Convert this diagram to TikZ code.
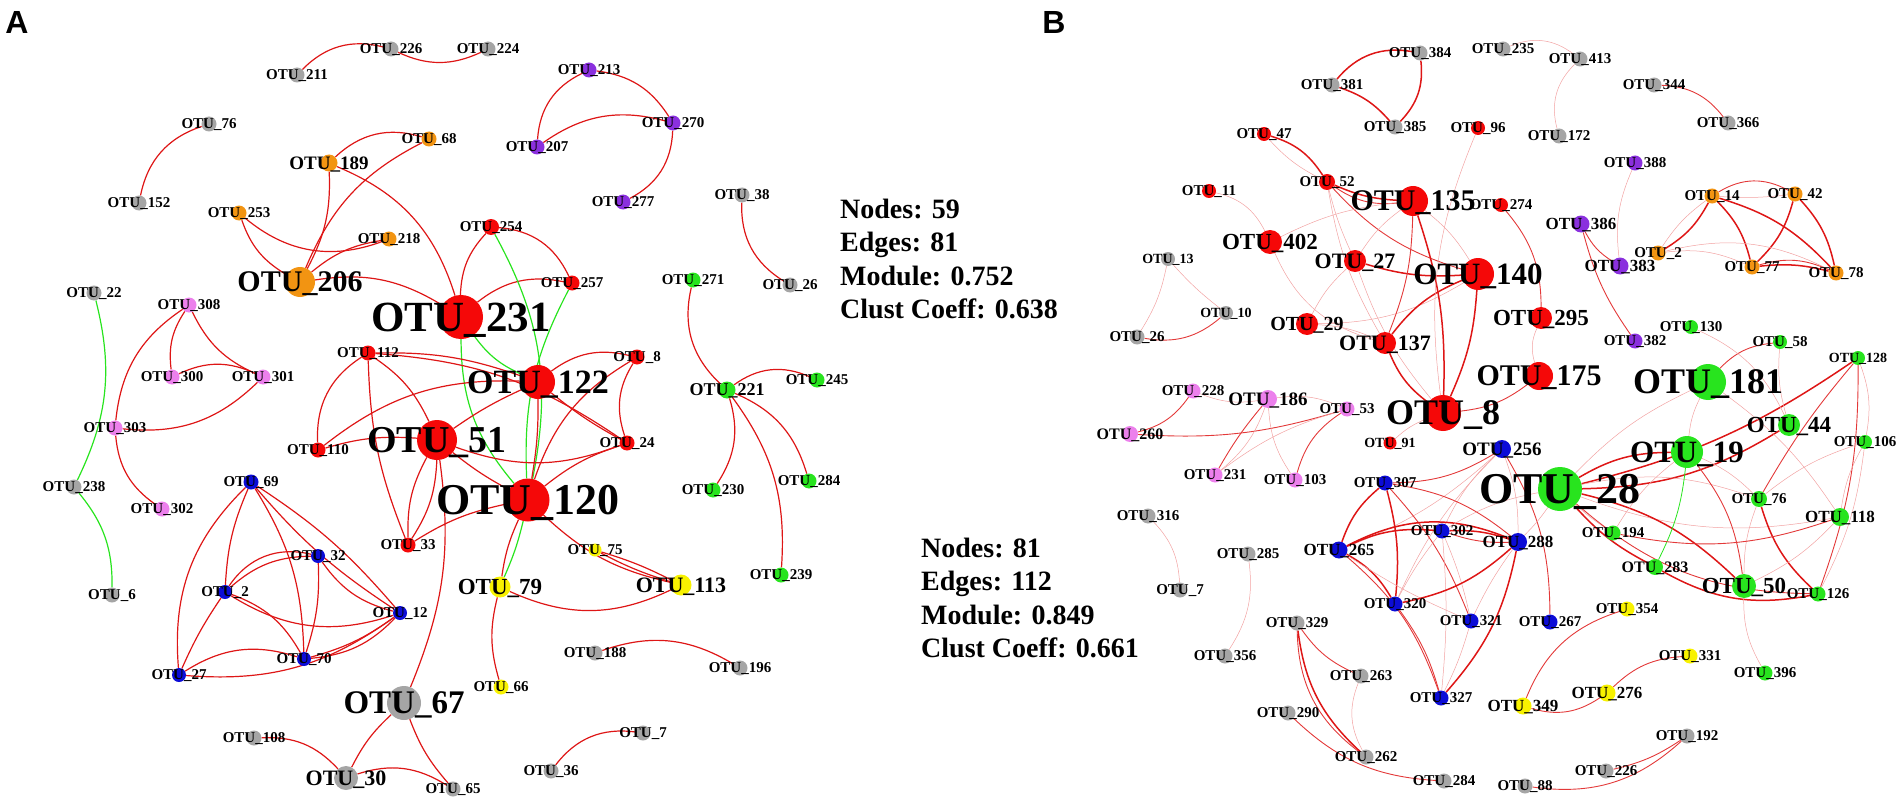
\documentclass[tikz,border=0pt]{standalone}
\usepackage{fontspec}
\setmainfont{Liberation Serif}
\newfontfamily\panelfont{Liberation Sans}

\definecolor{otured}{RGB}{245,8,8}
\definecolor{otugreen}{RGB}{40,228,30}
\definecolor{otublue}{RGB}{12,12,215}
\definecolor{otuorange}{RGB}{242,148,18}
\definecolor{otupurple}{RGB}{138,48,222}
\definecolor{otupink}{RGB}{236,128,236}
\definecolor{otuyellow}{RGB}{248,242,0}
\definecolor{otugray}{RGB}{165,165,165}
\definecolor{edgered}{RGB}{222,22,22}

\pgfdeclarelayer{edges}
\pgfsetlayers{edges,main}

\tikzset{
  otu/.style={circle, inner sep=0pt, minimum size=15},
  lab/.style={font=\bfseries\fontsize{#1}{#1}\selectfont, text depth=0pt, inner sep=0pt},
  lab/.default=15,
  panel/.style={font=\panelfont\bfseries\fontsize{32}{32}\selectfont, inner sep=0pt},
  stats/.style={font=\bfseries\fontsize{28}{33.5}\selectfont, align=left, inner sep=0pt, anchor=west},
  edge/.style={draw=edgered, line width=1.2pt},
  gedge/.style={draw=otugreen, line width=1.2pt},
  strong/.style={draw=edgered, line width=1.5pt},
  mid/.style={draw=edgered!85, line width=0.9pt},
  faint/.style={draw=edgered!40, line width=0.5pt},
}

\begin{document}
\begin{tikzpicture}[x=1pt, y=-1pt]
    \useasboundingbox (0,0) rectangle (1902,805);

    % ---------- panel A ----------
    \node[panel] (panA) at (17,22) {A};
    \node[stats] (statsA) at (840,259) {Nodes: 59\\Edges: 81\\Module: 0.752\\Clust Coeff: 0.638};

    \node[otu, fill=otugray, label={[lab]center:OTU\_226}] (a226) at (391,49) {};
    \node[otu, fill=otugray, label={[lab]center:OTU\_224}] (a224) at (488,49) {};
    \node[otu, fill=otugray, label={[lab]center:OTU\_211}] (a211) at (297,75) {};
    \node[otu, fill=otugray, label={[lab]center:OTU\_76}] (a76) at (209,124) {};
    \node[otu, fill=otugray, label={[lab]center:OTU\_152}] (a152) at (139,203) {};
    \node[otu, fill=otuorange, label={[lab]center:OTU\_68}] (a68) at (429,139) {};
    \node[otu, fill=otuorange, minimum size=17, label={[lab=19]center:OTU\_189}] (a189) at (329,163) {};
    \node[otu, fill=otuorange, label={[lab]center:OTU\_253}] (a253) at (239,213) {};
    \node[otu, fill=otuorange, label={[lab]center:OTU\_218}] (a218) at (389,239) {};
    \node[otu, fill=otupurple, label={[lab]center:OTU\_213}] (a213) at (589,70) {};
    \node[otu, fill=otupurple, label={[lab]center:OTU\_270}] (a270) at (673,123) {};
    \node[otu, fill=otupurple, label={[lab]center:OTU\_207}] (a207) at (537,147) {};
    \node[otu, fill=otupurple, label={[lab]center:OTU\_277}] (a277) at (623,202) {};
    \node[otu, fill=otugray, label={[lab]center:OTU\_38}] (a38) at (742,195) {};
    \node[otu, fill=otugray, label={[lab]center:OTU\_26}] (a26) at (790,285) {};
    \node[otu, fill=otured, minimum size=16, label={[lab]center:OTU\_254}] (a254) at (491,227) {};
    \node[otu, fill=otured, label={[lab]center:OTU\_257}] (a257) at (572,283) {};
    \node[otu, fill=otugray, label={[lab]center:OTU\_22}] (a22) at (94,293) {};
    \node[otu, fill=otupink, label={[lab]center:OTU\_308}] (a308) at (189,305) {};
    \node[otu, fill=otupink, label={[lab]center:OTU\_300}] (a300) at (172,377) {};
    \node[otu, fill=otupink, label={[lab]center:OTU\_301}] (a301) at (263,377) {};
    \node[otu, fill=otupink, label={[lab]center:OTU\_303}] (a303) at (115,428) {};
    \node[otu, fill=otugray, label={[lab]center:OTU\_238}] (a238) at (74,487) {};
    \node[otu, fill=otupink, label={[lab]center:OTU\_302}] (a302) at (162,509) {};
    \node[otu, fill=otured, label={[lab]center:OTU\_112}] (a112) at (368,353) {};
    \node[otu, fill=otured, label={[lab]center:OTU\_110}] (a110) at (318,450) {};
    \node[otu, fill=otured, label={[lab]center:OTU\_8}] (a8) at (637,357) {};
    \node[otu, fill=otured, label={[lab]center:OTU\_24}] (a24) at (627,443) {};
    \node[otu, fill=otured, label={[lab]center:OTU\_33}] (a33) at (408,545) {};
    \node[otu, fill=otuyellow, minimum size=13, label={[lab]center:OTU\_75}] (a75) at (595,550) {};
    \node[otu, fill=otugreen, label={[lab]center:OTU\_271}] (a271) at (693,280) {};
    \node[otu, fill=otugreen, minimum size=17, label={[lab=18]center:OTU\_221}] (a221) at (727,390) {};
    \node[otu, fill=otugreen, label={[lab]center:OTU\_245}] (a245) at (817,380) {};
    \node[otu, fill=otugreen, label={[lab]center:OTU\_230}] (a230) at (713,490) {};
    \node[otu, fill=otugreen, label={[lab]center:OTU\_284}] (a284) at (809,481) {};
    \node[otu, fill=otugreen, label={[lab]center:OTU\_239}] (a239) at (781,575) {};
    \node[otu, fill=otublue, label={[lab]center:OTU\_69}] (a69) at (251,482) {};
    \node[otu, fill=otublue, minimum size=14, label={[lab]center:OTU\_32}] (a32) at (318,556) {};
    \node[otu, fill=otublue, minimum size=14, label={[lab]center:OTU\_2}] (a2) at (225,592) {};
    \node[otu, fill=otublue, minimum size=14, label={[lab]center:OTU\_12}] (a12) at (400,613) {};
    \node[otu, fill=otublue, minimum size=14, label={[lab]center:OTU\_70}] (a70) at (304,659) {};
    \node[otu, fill=otublue, minimum size=14, label={[lab]center:OTU\_27}] (a27) at (179,675) {};
    \node[otu, fill=otugray, label={[lab]center:OTU\_6}] (a6) at (112,595) {};
    \node[otu, fill=otuyellow, minimum size=21, label={[lab=23]center:OTU\_79}] (a79) at (500,587) {};
    \node[otu, fill=otuyellow, minimum size=21, label={[lab=22]center:OTU\_113}] (a113) at (681,585) {};
    \node[otu, fill=otugray, label={[lab]center:OTU\_188}] (a188) at (595,653) {};
    \node[otu, fill=otugray, label={[lab]center:OTU\_196}] (a196) at (740,668) {};
    \node[otu, fill=otuyellow, label={[lab]center:OTU\_66}] (a66) at (501,687) {};
    \node[otu, fill=otugray, label={[lab]center:OTU\_108}] (a108) at (254,738) {};
    \node[otu, fill=otugray, label={[lab]center:OTU\_7}] (a7) at (643,733) {};
    \node[otu, fill=otugray, label={[lab]center:OTU\_36}] (a36) at (551,771) {};
    \node[otu, fill=otugray, label={[lab]center:OTU\_65}] (a65) at (453,789) {};
    % hubs of A
    \node[otu, fill=otuorange, minimum size=30, label={[lab=30]center:OTU\_206}] (a206) at (300,282) {};
    \node[otu, fill=otured, minimum size=44, label={[lab=43]center:OTU\_231}] (a231) at (461,317) {};
    \node[otu, fill=otured, minimum size=34, label={[lab=34]center:OTU\_122}] (a122) at (538,382) {};
    \node[otu, fill=otured, minimum size=40, label={[lab=38]center:OTU\_51}] (a51) at (437,440) {};
    \node[otu, fill=otured, minimum size=43, label={[lab=44]center:OTU\_120}] (a120) at (528,500) {};
    \node[otu, fill=otugray, minimum size=34, label={[lab=33]center:OTU\_67}] (a67) at (404,703) {};
    \node[otu, fill=otugray, minimum size=24, label={[lab=22]center:OTU\_30}] (a30) at (346,778) {};

    % ---------- panel B ----------
    \node[panel] (panB) at (1054,22) {B};
    \node[stats] (statsB) at (921,598) {Nodes: 81\\Edges: 112\\Module: 0.849\\Clust Coeff: 0.661};

    \node[otu, fill=otugray, label={[lab]center:OTU\_381}] (b381) at (1332,85) {};
    \node[otu, fill=otugray, label={[lab]center:OTU\_384}] (b384) at (1420,53) {};
    \node[otu, fill=otugray, label={[lab]center:OTU\_385}] (b385) at (1395,127) {};
    \node[otu, fill=otugray, label={[lab]center:OTU\_235}] (b235) at (1503,49) {};
    \node[otu, fill=otugray, label={[lab]center:OTU\_413}] (b413) at (1580,59) {};
    \node[otu, fill=otugray, label={[lab]center:OTU\_344}] (b344) at (1654,85) {};
    \node[otu, fill=otugray, label={[lab]center:OTU\_366}] (b366) at (1728,123) {};
    \node[otu, fill=otugray, label={[lab]center:OTU\_172}] (b172) at (1559,136) {};
    \node[otu, fill=otured, minimum size=14, label={[lab]center:OTU\_96}] (b96) at (1478,128) {};
    \node[otu, fill=otured, minimum size=14, label={[lab]center:OTU\_47}] (b47) at (1264,134) {};
    \node[otu, fill=otured, minimum size=16, label={[lab]center:OTU\_52}] (b52) at (1327,182) {};
    \node[otu, fill=otured, minimum size=14, label={[lab]center:OTU\_11}] (b11) at (1209,191) {};
    \node[otu, fill=otured, minimum size=14, label={[lab]center:OTU\_274}] (b274) at (1501,205) {};
    \node[otu, fill=otugray, minimum size=14, label={[lab=14]center:OTU\_13}] (b13) at (1168,259) {};
    \node[otu, fill=otugray, minimum size=14, label={[lab=14]center:OTU\_10}] (b10) at (1226,313) {};
    \node[otu, fill=otugray, label={[lab]center:OTU\_26}] (b26) at (1137,337) {};
    \node[otu, fill=otured, minimum size=13, label={[lab=14]center:OTU\_91}] (b91) at (1390,443) {};
    \node[otu, fill=otupurple, label={[lab]center:OTU\_388}] (b388) at (1635,163) {};
    \node[otu, fill=otupurple, minimum size=17, label={[lab=17]center:OTU\_386}] (b386) at (1581,224) {};
    \node[otu, fill=otupurple, minimum size=17, label={[lab=17]center:OTU\_383}] (b383) at (1620,266) {};
    \node[otu, fill=otupurple, label={[lab]center:OTU\_382}] (b382) at (1635,341) {};
    \node[otu, fill=otuorange, label={[lab]center:OTU\_14}] (b14) at (1712,196) {};
    \node[otu, fill=otuorange, label={[lab]center:OTU\_42}] (b42) at (1795,194) {};
    \node[otu, fill=otuorange, label={[lab]center:OTU\_2}] (b2) at (1658,253) {};
    \node[otu, fill=otuorange, label={[lab]center:OTU\_77}] (b77) at (1752,267) {};
    \node[otu, fill=otuorange, label={[lab]center:OTU\_78}] (b78) at (1836,273) {};
    \node[otu, fill=otugreen, minimum size=14, label={[lab]center:OTU\_130}] (b130) at (1691,327) {};
    \node[otu, fill=otugreen, minimum size=14, label={[lab]center:OTU\_58}] (b58) at (1780,342) {};
    \node[otu, fill=otugreen, minimum size=14, label={[lab=14]center:OTU\_128}] (b128) at (1858,358) {};
    \node[otu, fill=otugreen, minimum size=14, label={[lab]center:OTU\_106}] (b106) at (1865,442) {};
    \node[otu, fill=otugreen, minimum size=16, label={[lab]center:OTU\_76}] (b76) at (1759,499) {};
    \node[otu, fill=otugreen, minimum size=18, label={[lab=17]center:OTU\_118}] (b118) at (1840,517) {};
    \node[otu, fill=otugreen, label={[lab]center:OTU\_194}] (b194) at (1613,533) {};
    \node[otu, fill=otugreen, minimum size=16, label={[lab=16]center:OTU\_283}] (b283) at (1655,567) {};
    \node[otu, fill=otugreen, label={[lab]center:OTU\_126}] (b126) at (1818,594) {};
    \node[otu, fill=otugreen, label={[lab]center:OTU\_396}] (b396) at (1765,673) {};
    \node[otu, fill=otupink, label={[lab]center:OTU\_228}] (b228) at (1193,391) {};
    \node[otu, fill=otupink, minimum size=18, label={[lab=19]center:OTU\_186}] (b186) at (1268,399) {};
    \node[otu, fill=otupink, label={[lab]center:OTU\_53}] (b53) at (1347,409) {};
    \node[otu, fill=otupink, minimum size=16, label={[lab=16]center:OTU\_260}] (b260) at (1130,434) {};
    \node[otu, fill=otupink, label={[lab]center:OTU\_231}] (b231) at (1215,475) {};
    \node[otu, fill=otupink, label={[lab]center:OTU\_103}] (b103) at (1295,480) {};
    \node[otu, fill=otublue, minimum size=18, label={[lab=19]center:OTU\_256}] (b256) at (1502,449) {};
    \node[otu, fill=otublue, label={[lab]center:OTU\_307}] (b307) at (1385,483) {};
    \node[otu, fill=otublue, label={[lab]center:OTU\_302}] (b302) at (1442,531) {};
    \node[otu, fill=otublue, minimum size=18, label={[lab=17]center:OTU\_288}] (b288) at (1518,542) {};
    \node[otu, fill=otublue, minimum size=17, label={[lab=17]center:OTU\_265}] (b265) at (1339,550) {};
    \node[otu, fill=otublue, label={[lab]center:OTU\_320}] (b320) at (1395,604) {};
    \node[otu, fill=otublue, label={[lab]center:OTU\_321}] (b321) at (1471,621) {};
    \node[otu, fill=otublue, label={[lab]center:OTU\_267}] (b267) at (1550,622) {};
    \node[otu, fill=otublue, label={[lab]center:OTU\_327}] (b327) at (1441,698) {};
    \node[otu, fill=otuyellow, label={[lab]center:OTU\_354}] (b354) at (1627,609) {};
    \node[otu, fill=otuyellow, label={[lab]center:OTU\_331}] (b331) at (1690,656) {};
    \node[otu, fill=otuyellow, minimum size=17, label={[lab=17]center:OTU\_276}] (b276) at (1607,693) {};
    \node[otu, fill=otuyellow, minimum size=17, label={[lab=17]center:OTU\_349}] (b349) at (1523,706) {};
    \node[otu, fill=otugray, label={[lab]center:OTU\_316}] (b316) at (1148,516) {};
    \node[otu, fill=otugray, label={[lab]center:OTU\_285}] (b285) at (1248,554) {};
    \node[otu, fill=otugray, label={[lab]center:OTU\_7}] (b7) at (1180,590) {};
    \node[otu, fill=otugray, label={[lab]center:OTU\_356}] (b356) at (1225,656) {};
    \node[otu, fill=otugray, label={[lab]center:OTU\_329}] (b329) at (1297,623) {};
    \node[otu, fill=otugray, label={[lab]center:OTU\_263}] (b263) at (1361,676) {};
    \node[otu, fill=otugray, label={[lab]center:OTU\_290}] (b290) at (1288,713) {};
    \node[otu, fill=otugray, label={[lab]center:OTU\_262}] (b262) at (1366,757) {};
    \node[otu, fill=otugray, label={[lab]center:OTU\_284}] (b284) at (1444,781) {};
    \node[otu, fill=otugray, label={[lab]center:OTU\_88}] (b88) at (1525,786) {};
    \node[otu, fill=otugray, label={[lab]center:OTU\_226}] (b226) at (1606,771) {};
    \node[otu, fill=otugray, label={[lab]center:OTU\_192}] (b192) at (1687,736) {};
    % hubs of B
    \node[otu, fill=otured, minimum size=30, label={[lab=30]center:OTU\_135}] (b135) at (1413,201) {};
    \node[otu, fill=otured, minimum size=24, label={[lab=23]center:OTU\_402}] (b402) at (1270,242) {};
    \node[otu, fill=otured, minimum size=22, label={[lab=22]center:OTU\_27}] (b27) at (1355,261) {};
    \node[otu, fill=otured, minimum size=32, label={[lab=31]center:OTU\_140}] (b140) at (1478,274) {};
    \node[otu, fill=otured, minimum size=22, label={[lab=20]center:OTU\_29}] (b29) at (1307,324) {};
    \node[otu, fill=otured, minimum size=22, label={[lab=22]center:OTU\_137}] (b137) at (1385,343) {};
    \node[otu, fill=otured, minimum size=22, label={[lab=23]center:OTU\_295}] (b295) at (1541,318) {};
    \node[otu, fill=otured, minimum size=28, label={[lab=30]center:OTU\_175}] (b175) at (1539,376) {};
    \node[otu, fill=otured, minimum size=36, label={[lab=36]center:OTU\_8}] (b8) at (1443,413) {};
    \node[otu, fill=otugreen, minimum size=36, label={[lab=36]center:OTU\_181}] (b181) at (1708,382) {};
    \node[otu, fill=otugreen, minimum size=22, label={[lab=23]center:OTU\_44}] (b44) at (1789,425) {};
    \node[otu, fill=otugreen, minimum size=32, label={[lab=31]center:OTU\_19}] (b19) at (1687,452) {};
    \node[otu, fill=otugreen, minimum size=24, label={[lab=23]center:OTU\_50}] (b50) at (1744,586) {};
    \node[otu, fill=otugreen, minimum size=44, label={[lab=44]center:OTU\_28}] (b28) at (1560,489) {};

    \begin{pgfonlayer}{edges}
    % A: small modules
    \draw[edge] (a211) to[bend left=30] (a226);
    \draw[edge] (a226) to[bend right=25] (a224);
    \draw[edge] (a76) to[bend right=30] (a152);
    \draw[edge] (a213) to[bend right=30] (a207);
    \draw[edge] (a213) to[bend left=25] (a270);
    \draw[edge] (a207) to[bend left=25] (a270);
    \draw[edge] (a270) to[bend left=30] (a277);
    \draw[edge] (a38) to[bend right=30] (a26);
    \draw[edge] (a188) to[bend left=25] (a196);
    \draw[edge] (a36) to[bend left=30] (a7);
    \draw[edge] (a271) to[bend right=30] (a221);
    \draw[edge] (a221) to[bend left=30] (a245);
    \draw[edge] (a221) to[bend left=25] (a230);
    \draw[edge] (a221) to[bend left=25] (a284);
    \draw[edge] (a221) to[bend left=20] (a239);
    \draw[gedge] (a22) to[bend left=20] (a238);
    \draw[gedge] (a238) to[bend left=20] (a6);
    \draw[edge] (a308) to[bend right=20] (a300);
    \draw[edge] (a308) to[bend right=20] (a301);
    \draw[edge] (a308) to[bend right=25] (a303);
    \draw[edge] (a300) to[bend left=25] (a301);
    \draw[edge] (a301) to[bend left=25] (a303);
    \draw[edge] (a303) to[bend right=25] (a302);
    % A: orange and red module
    \draw[edge] (a189) to[bend left=30] (a68);
    \draw[edge] (a189) to[bend left=15] (a206);
    \draw[edge] (a68) to[bend right=20] (a206);
    \draw[edge] (a253) to[bend right=30] (a218);
    \draw[edge] (a253) to[bend right=20] (a206);
    \draw[edge] (a218) to[bend right=15] (a206);
    \draw[edge] (a189) to[bend left=25] (a231);
    \draw[edge] (a206) to[bend left=20] (a231);
    \draw[edge] (a254) to[bend right=20] (a231);
    \draw[edge] (a254) to[bend left=30] (a257);
    \draw[edge] (a231) to[bend left=25] (a257);
    \draw[gedge] (a254) to[bend left=20] (a120);
    \draw[gedge] (a257) to[bend right=15] (a120);
    \draw[gedge] (a231) to[bend right=20] (a120);
    \draw[gedge] (a231) to[bend right=15] (a122);
    \draw[gedge] (a120) to[bend left=5] (a79);
    \draw[edge] (a120) to[bend right=8] (a79);
    \draw[edge] (a112) to[bend right=30] (a110);
    \draw[edge] (a112) to[bend left=15] (a51);
    \draw[edge] (a112) to[bend right=10] (a33);
    \draw[edge] (a112) to[bend left=10] (a122);
    \draw[edge] (a112) to[bend left=15] (a24);
    \draw[edge] (a110) to[bend left=20] (a122);
    \draw[edge] (a110) to[bend left=10] (a51);
    \draw[edge] (a122) to[bend left=25] (a8);
    \draw[edge] (a122) to[bend right=5] (a24);
    \draw[edge] (a8) to[bend right=25] (a24);
    \draw[edge] (a8) to[bend right=20] (a120);
    \draw[edge] (a51) to[bend left=5] (a122);
    \draw[edge] (a51) to[bend right=5] (a120);
    \draw[edge] (a51) to[bend left=15] (a33);
    \draw[edge] (a51) to[bend right=15] (a33);
    \draw[edge] (a51) to[bend right=20] (a24);
    \draw[edge] (a120) to[bend left=10] (a24);
    \draw[edge] (a120) to[bend right=5] (a122);
    \draw[edge] (a33) to[bend left=10] (a120);
    \draw[edge] (a120) to[bend right=15] (a113);
    \draw[edge] (a75) to[bend right=5] (a113);
    \draw[edge] (a75) to[bend left=5] (a113);
    \draw[edge] (a79) to[bend right=25] (a113);
    \draw[edge] (a79) to[bend right=15] (a66);
    \draw[edge] (a51) to[bend left=15] (a67);
    \draw[edge] (a67) to[bend right=10] (a30);
    \draw[edge] (a67) to[bend right=10] (a65);
    \draw[edge] (a30) to[bend right=25] (a108);
    \draw[edge] (a30) to[bend left=25] (a65);
    % A: blue module
    \draw[edge] (a69) to[bend right=10] (a2);
    \draw[edge] (a69) to[bend right=25] (a27);
    \draw[edge] (a69) to[bend left=8] (a12);
    \draw[edge] (a69) to[bend right=8] (a12);
    \draw[edge] (a69) to[bend left=15] (a70);
    \draw[edge] (a32) to[bend right=20] (a2);
    \draw[edge] (a32) to[bend right=35] (a2);
    \draw[edge] (a32) to[bend left=10] (a70);
    \draw[edge] (a32) to[bend right=20] (a12);
    \draw[edge] (a2) to[bend right=25] (a12);
    \draw[edge] (a2) to[bend left=20] (a70);
    \draw[edge] (a2) to[bend right=5] (a27);
    \draw[edge] (a27) to[bend left=25] (a70);
    \draw[edge] (a27) to[bend right=20] (a12);
    \draw[edge] (a70) to[bend right=10] (a12);
    \draw[edge] (a70) to[bend right=20] (a12);

    % B: gray modules
    \draw[strong] (b381) to[bend left=30] (b384);
    \draw[strong] (b381) to[bend left=15] (b385);
    \draw[strong] (b384) to[bend left=25] (b385);
    \draw[faint] (b235) to[bend left=30] (b413);
    \draw[faint] (b413) to[bend right=30] (b172);
    \draw[mid] (b344) to[bend left=25] (b366);
    \draw[faint] (b13) to[bend left=10] (b26);
    \draw[faint] (b13) to[bend right=5] (b10);
    \draw[mid] (b26) to[bend right=25] (b10);
    \draw[faint] (b316) to[bend left=20] (b7);
    \draw[faint] (b285) to[bend left=20] (b356);
    \draw[mid] (b329) to[bend right=15] (b263);
    \draw[strong] (b329) to[bend right=20] (b262);
    \draw[mid] (b329) to[bend right=26] (b262);
    \draw[faint] (b263) to[bend right=25] (b262);
    \draw[mid] (b290) to[bend right=20] (b284);
    \draw[mid] (b192) to[bend left=10] (b226);
    \draw[mid] (b192) to[bend left=25] (b88);
    % B: red module
    \draw[strong] (b47) to[bend left=20] (b52);
    \draw[faint] (b47) to[bend right=10] (b52);
    \draw[strong] (b52) to[bend right=10] (b135);
    \draw[mid] (b52) to[bend right=20] (b135);
    \draw[faint] (b52) to[bend right=10] (b137);
    \draw[mid] (b52) to[bend right=15] (b140);
    \draw[faint] (b52) to[bend right=5] (b27);
    \draw[faint] (b11) to[bend left=25] (b402);
    \draw[faint] (b402) to[bend left=10] (b135);
    \draw[faint] (b402) to[bend right=25] (b137);
    \draw[strong] (b27) to[bend right=10] (b140);
    \draw[faint] (b27) to[bend left=10] (b135);
    \draw[faint] (b27) to[bend right=10] (b8);
    \draw[faint] (b27) to[bend right=10] (b29);
    \draw[faint] (b29) to[bend right=15] (b140);
    \draw[faint] (b29) to[bend left=10] (b137);
    \draw[strong] (b137) to[bend left=15] (b140);
    \draw[mid] (b137) to[bend right=10] (b135);
    \draw[strong] (b137) to[bend right=15] (b8);
    \draw[faint] (b135) to[bend left=10] (b140);
    \draw[strong] (b135) to[bend left=10] (b8);
    \draw[strong] (b140) to[bend left=10] (b8);
    \draw[faint] (b96) to[bend right=15] (b8);
    \draw[mid] (b274) to[bend left=20] (b295);
    \draw[faint] (b295) to[bend right=20] (b175);
    \draw[mid] (b175) to[bend left=15] (b8);
    \draw[faint] (b91) to[bend left=10] (b8);
    % B: pink module
    \draw[mid] (b228) to[bend left=20] (b260);
    \draw[faint] (b228) to[bend right=15] (b186);
    \draw[mid] (b260) to[bend right=10] (b53);
    \draw[mid] (b186) to[bend right=5] (b231);
    \draw[faint] (b186) to[bend left=15] (b231);
    \draw[faint] (b186) to[bend right=15] (b103);
    \draw[faint] (b186) to[bend left=15] (b53);
    \draw[mid] (b53) to[bend right=20] (b103);
    \draw[faint] (b53) to[bend right=10] (b231);
    % B: purple, orange, yellow modules
    \draw[faint] (b388) to[bend right=15] (b383);
    \draw[mid] (b386) to[bend right=15] (b383);
    \draw[mid] (b386) to[bend right=10] (b382);
    \draw[mid] (b14) to[bend left=30] (b42);
    \draw[faint] (b14) to[bend right=5] (b42);
    \draw[strong] (b14) to[bend left=15] (b2);
    \draw[faint] (b14) to[bend right=10] (b2);
    \draw[strong] (b14) to[bend left=15] (b77);
    \draw[strong] (b14) to[bend left=15] (b78);
    \draw[strong] (b42) to[bend left=15] (b77);
    \draw[strong] (b42) to[bend left=15] (b78);
    \draw[faint] (b2) to[bend left=20] (b78);
    \draw[faint] (b2) to[bend left=15] (b77);
    \draw[strong] (b77) to[bend left=10] (b78);
    \draw[mid] (b77) to[bend left=20] (b78);
    \draw[mid] (b354) to[bend right=25] (b349);
    \draw[mid] (b349) to[bend right=25] (b276);
    \draw[mid] (b276) to[bend left=20] (b331);
    % B: blue module
    \draw[mid] (b256) to[bend left=15] (b307);
    \draw[faint] (b256) to[bend left=10] (b265);
    \draw[faint] (b256) to[bend right=10] (b302);
    \draw[faint] (b256) to[bend left=10] (b288);
    \draw[faint] (b256) to[bend right=10] (b320);
    \draw[mid] (b267) to[bend right=15] (b256);
    \draw[strong] (b307) to[bend right=15] (b265);
    \draw[strong] (b307) to[bend left=10] (b320);
    \draw[mid] (b307) to[bend left=10] (b321);
    \draw[mid] (b307) to[bend left=15] (b288);
    \draw[strong] (b265) to[bend left=15] (b302);
    \draw[strong] (b265) to[bend left=25] (b288);
    \draw[strong] (b265) to[bend left=15] (b320);
    \draw[mid] (b265) to[bend left=15] (b327);
    \draw[faint] (b265) to[bend right=5] (b321);
    \draw[strong] (b302) to[bend left=10] (b288);
    \draw[mid] (b302) to[bend right=10] (b288);
    \draw[faint] (b302) to[bend right=5] (b320);
    \draw[faint] (b302) to[bend left=5] (b321);
    \draw[faint] (b302) to[bend left=5] (b327);
    \draw[strong] (b288) to[bend left=15] (b320);
    \draw[faint] (b288) to[bend right=5] (b321);
    \draw[strong] (b288) to[bend left=15] (b327);
    \draw[mid] (b320) to[bend left=10] (b327);
    \draw[faint] (b321) to[bend left=5] (b327);
    \draw[faint] (b28) to[bend right=10] (b302);
    \draw[faint] (b28) to[bend left=5] (b288);
    % B: green module
    \draw[strong] (b28) to[bend left=15] (b19);
    \draw[strong] (b28) to[bend right=15] (b44);
    \draw[strong] (b28) to[bend right=10] (b128);
    \draw[faint] (b28) to[bend left=15] (b76);
    \draw[faint] (b28) to[bend right=15] (b118);
    \draw[strong] (b28) to[bend left=15] (b50);
    \draw[faint] (b28) to[bend right=5] (b194);
    \draw[strong] (b28) to[bend right=10] (b283);
    \draw[faint] (b28) to[bend left=10] (b181);
    \draw[mid] (b28) to[bend right=20] (b126);
    \draw[draw=otugreen, line width=0.8pt] (b19) to[bend left=10] (b283);
    \draw[faint] (b19) to[bend left=10] (b76);
    \draw[mid] (b19) to[bend left=15] (b50);
    \draw[faint] (b19) to[bend right=10] (b194);
    \draw[mid] (b181) to[bend left=20] (b58);
    \draw[faint] (b181) to[bend right=10] (b19);
    \draw[faint] (b181) to[bend left=10] (b118);
    \draw[faint] (b130) to[bend left=20] (b44);
    \draw[faint] (b58) to[bend right=10] (b44);
    \draw[faint] (b128) to[bend left=15] (b106);
    \draw[mid] (b128) to[bend right=5] (b76);
    \draw[mid] (b128) to[bend left=10] (b126);
    \draw[faint] (b106) to[bend right=10] (b76);
    \draw[faint] (b106) to[bend left=10] (b126);
    \draw[faint] (b106) to[bend right=10] (b118);
    \draw[strong] (b76) to[bend right=15] (b126);
    \draw[faint] (b76) to[bend right=10] (b50);
    \draw[mid] (b118) to[bend left=15] (b194);
    \draw[faint] (b118) to[bend left=10] (b50);
    \draw[strong] (b283) to[bend right=20] (b126);
    \draw[faint] (b50) to[bend right=15] (b396);
    \end{pgfonlayer}
\end{tikzpicture}
\end{document}
